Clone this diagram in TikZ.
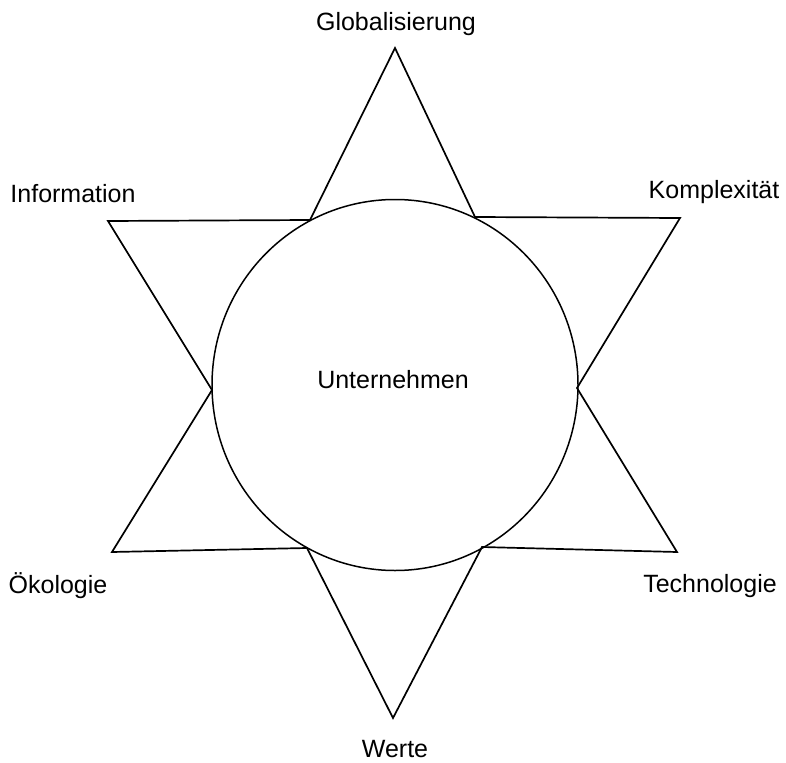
\documentclass[tikz,border=0pt]{standalone}
\usepackage{fontspec}
\setmainfont{Liberation Sans}
\begin{document}
\begin{tikzpicture}[x=1pt,y=-1pt,
  lbl/.style={anchor=base,inner sep=0pt,font=\fontsize{25}{30}\selectfont},
  starline/.style={line width=1.7pt,line join=miter},
  ring/.style={line width=1.5pt}]
\useasboundingbox (0,0) rectangle (786,762);
% star vertices
\coordinate (T) at (395,48);
\coordinate (iTR) at (475,217);
\coordinate (oRT) at (680,218);
\coordinate (iR) at (577,388);
\coordinate (oRB) at (677,552);
\coordinate (iBR) at (482,547);
\coordinate (B) at (393,718);
\coordinate (iBL) at (307,548);
\coordinate (oLB) at (112,552);
\coordinate (iL) at (212,390);
\coordinate (oLT) at (108,221);
\coordinate (iTL) at (310,220);
\draw[starline] (T) -- (iTR) -- (oRT) -- (iR) -- (oRB) -- (iBR) -- (B) -- (iBL) -- (oLB) -- (iL) -- (oLT) -- (iTL) -- cycle;
\draw[ring] (395,385) ellipse [x radius=183, y radius=185.5];
% labels
\node[lbl] (glob) at (396,31) {Globalisierung};
\node[lbl] (info) at (73,202) {Information};
\node[lbl] (komp) at (714,198) {Komplexität};
\node[lbl] (oeko) at (58,593) {Ökologie};
\node[lbl] (tech) at (710,592) {Technologie};
\node[lbl] (wert) at (395,757) {Werte};
\node[lbl] (unt) at (393,388) {Unternehmen};
\end{tikzpicture}
\end{document}
